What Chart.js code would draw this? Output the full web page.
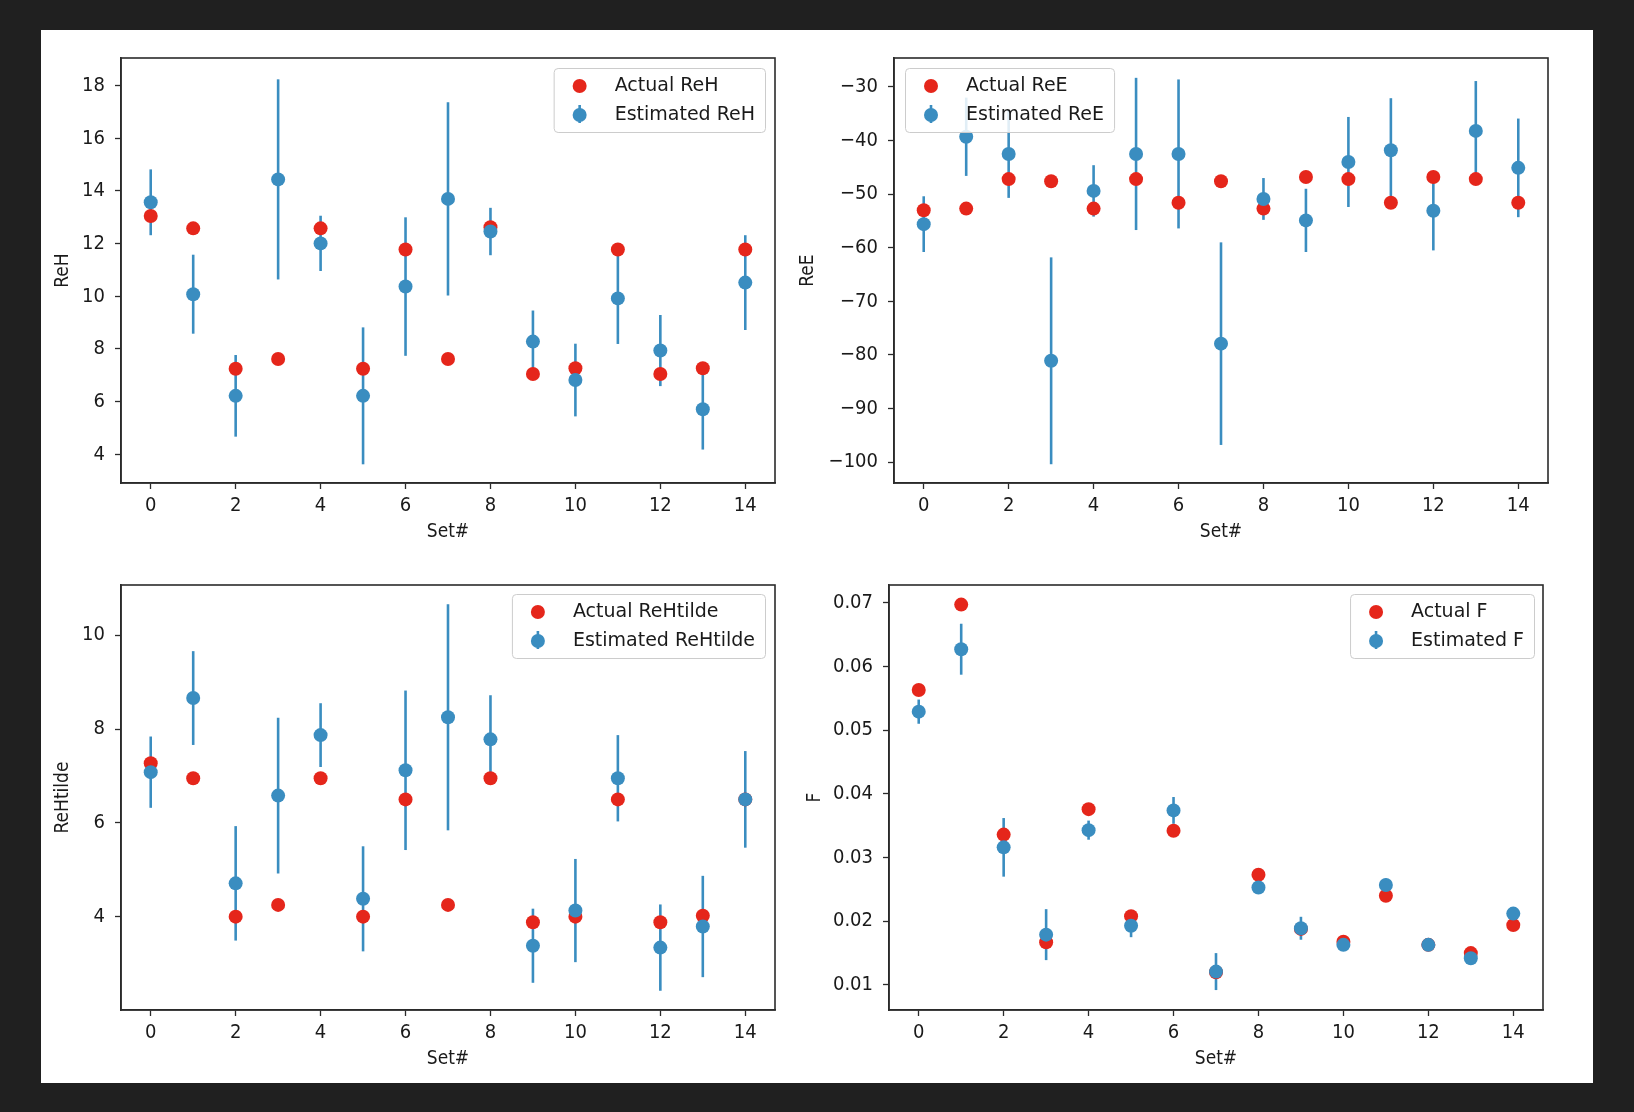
<!DOCTYPE html>
<html>
<head>
<meta charset="utf-8">
<script src="https://cdn.jsdelivr.net/npm/chart.js@4.4.1/dist/chart.umd.min.js"></script>
<style>
body { margin: 0; background: #202020; width: 1634px; height: 1112px; overflow: hidden; }
#fig { position: absolute; left: 41px; top: 30px; width: 1552px; height: 1053px; background: #fff; }
canvas { position: absolute; }
</style>
</head>
<body>
<div id="fig"></div>
<canvas id="cReH" width="800" height="520" style="left:42px;top:30px"></canvas>
<canvas id="cReE" width="802" height="520" style="left:790px;top:30px"></canvas>
<canvas id="cReHt" width="800" height="522" style="left:42px;top:555px"></canvas>
<canvas id="cF" width="802" height="522" style="left:790px;top:555px"></canvas>
<script>
// set numbers on the x axis
var sets = [0, 1, 2, 3, 4, 5, 6, 7, 8, 9, 10, 11, 12, 13, 14];
var xTicks = [0, 2, 4, 6, 8, 10, 12, 14];

var actualReH = [13.05, 12.58, 7.25, 7.62, 12.58, 7.25, 11.78, 7.62, 12.62, 7.05, 7.27, 11.78, 7.05, 7.27, 11.78];
var estReH = [13.57, 10.08, 6.22, 14.44, 12.01, 6.22, 10.37, 13.70, 12.46, 8.28, 6.82, 9.92, 7.94, 5.71, 10.52];
var errReH = [1.25, 1.5, 1.55, 3.8, 1.05, 2.6, 2.63, 3.67, 0.9, 1.18, 1.38, 1.73, 1.35, 1.53, 1.8];
var reHTicks = [4, 6, 8, 10, 12, 14, 16, 18];

var actualReE = [-53.0, -52.7, -47.2, -47.6, -52.7, -47.2, -51.6, -47.6, -52.7, -46.8, -47.2, -51.6, -46.8, -47.2, -51.6];
var estReE = [-55.6, -39.3, -42.5, -81.1, -49.4, -42.5, -42.5, -77.9, -50.9, -54.9, -44.0, -41.8, -53.1, -38.2, -45.1];
var errReE = [5.2, 7.3, 8.2, 19.3, 4.8, 14.2, 13.9, 18.9, 3.9, 5.9, 8.4, 9.7, 7.4, 9.3, 9.2];
var reETicks = [-100, -90, -80, -70, -60, -50, -40, -30];

var actualReHt = [7.27, 6.95, 4.0, 4.25, 6.95, 4.0, 6.5, 4.25, 6.95, 3.88, 4.0, 6.5, 3.88, 4.02, 6.5];
var estReHt = [7.08, 8.66, 4.71, 6.58, 7.87, 4.38, 7.12, 8.25, 7.78, 3.38, 4.13, 6.95, 3.34, 3.79, 6.5];
var errReHt = [0.76, 1.0, 1.22, 1.66, 0.68, 1.12, 1.7, 2.41, 0.94, 0.79, 1.1, 0.92, 0.92, 1.08, 1.03];
var reHtTicks = [4, 6, 8, 10];

var actualF = [0.0563, 0.0697, 0.0336, 0.0167, 0.0376, 0.0208, 0.0342, 0.0120, 0.0273, 0.0188, 0.0168, 0.0240, 0.0163, 0.0150, 0.0194];
var estF = [0.0529, 0.0627, 0.0316, 0.0179, 0.0343, 0.0193, 0.0374, 0.0121, 0.0253, 0.0189, 0.0163, 0.0257, 0.0163, 0.0142, 0.0212];
var errF = [0.0019, 0.004, 0.0046, 0.004, 0.0015, 0.0018, 0.0021, 0.0029, 0.0008, 0.0018, 0.0008, 0.001, 0.0006, 0.0008, 0.0006];
var fTicks = [0.01, 0.02, 0.03, 0.04, 0.05, 0.06, 0.07];

var RED = '#e5261b';
var BLUE = '#3a8dc0';
var AXIS = '#2b2b2b';
var FONT = '"DejaVu Sans Condensed", "DejaVu Sans", sans-serif';
var LEG_FONT = '19px "DejaVu Sans", sans-serif';

Chart.defaults.font.family = FONT;
Chart.defaults.color = '#1a1a1a';

// vertical error bars for the estimated series, drawn under the points
var errorBars = {
    id: 'errorBars',
    beforeDatasetsDraw: function (chart, args, opts) {
        var c = chart.ctx, x = chart.scales.x, y = chart.scales.y;
        var pts = chart.data.datasets[1].data;
        c.save();
        c.strokeStyle = BLUE;
        c.lineWidth = 2.6;
        opts.err.forEach(function (e, i) {
            var px = x.getPixelForValue(pts[i].x);
            c.beginPath();
            c.moveTo(px, y.getPixelForValue(pts[i].y - e));
            c.lineTo(px, y.getPixelForValue(pts[i].y + e));
            c.stroke();
        });
        c.restore();
    }
};

// frame + matplotlib style legend box
var frameLegend = {
    id: 'frameLegend',
    afterDraw: function (chart, args, opts) {
        var c = chart.ctx, a = chart.chartArea;
        c.save();
        c.strokeStyle = AXIS;
        c.lineWidth = 1.6;
        c.strokeRect(a.left, a.top, a.right - a.left, a.bottom - a.top);

        c.font = LEG_FONT;
        var tw = Math.max(c.measureText(opts.labels[0]).width, c.measureText(opts.labels[1]).width);
        var w = 61 + tw + 10, h = 64;
        var left = opts.side === 'left' ? a.left + opts.dx : a.right - opts.dx - w;
        var top = a.top + opts.dy;
        c.fillStyle = 'rgba(255,255,255,0.85)';
        c.strokeStyle = '#cccccc';
        c.lineWidth = 1;
        c.beginPath();
        c.roundRect(left + 0.5, top + 0.5, w, h, 4);
        c.fill();
        c.stroke();

        var mx = left + 26, r1 = top + 18, r2 = top + 47;
        c.fillStyle = RED;
        c.beginPath(); c.arc(mx, r1, 7, 0, Math.PI * 2); c.fill();
        c.strokeStyle = BLUE; c.lineWidth = 2.6;
        c.beginPath(); c.moveTo(mx, r2 - 10); c.lineTo(mx, r2 + 8); c.stroke();
        c.fillStyle = BLUE;
        c.beginPath(); c.arc(mx, r2, 7, 0, Math.PI * 2); c.fill();

        c.fillStyle = '#1a1a1a';
        c.textBaseline = 'middle';
        c.fillText(opts.labels[0], left + 61, r1);
        c.fillText(opts.labels[1], left + 61, r2);
        c.restore();
    }
};

function panel(id, o) {
    var ctx = document.getElementById(id).getContext('2d');
    return new Chart(ctx, {
        type: 'scatter',
        data: {
            datasets: [{
                label: 'Actual ' + o.name,
                data: sets.map(function (s, i) { return { x: s, y: o.actual[i] }; }),
                backgroundColor: RED,
                borderColor: RED,
                borderWidth: 0,
                pointRadius: 7,
                order: 2
            }, {
                label: 'Estimated ' + o.name,
                data: sets.map(function (s, i) { return { x: s, y: o.est[i] }; }),
                backgroundColor: BLUE,
                borderColor: BLUE,
                borderWidth: 0,
                pointRadius: 7,
                order: 1
            }]
        },
        options: {
            responsive: false,
            animation: false,
            layout: { padding: { left: 0, right: o.padRight, top: o.padTop, bottom: 0 } },
            plugins: {
                legend: { display: false },
                tooltip: { enabled: false },
                errorBars: { err: o.err },
                frameLegend: { labels: ['Actual ' + o.name, 'Estimated ' + o.name], side: o.legSide, dx: o.legDx, dy: o.legDy }
            },
            scales: {
                x: {
                    type: 'linear',
                    min: -0.7,
                    max: 14.7,
                    afterBuildTicks: function (s) { s.ticks = xTicks.map(function (v) { return { value: v }; }); },
                    afterFit: function (s) { s.height = 67; },
                    grid: { display: true, drawOnChartArea: false, tickLength: 6, color: AXIS, tickWidth: 1.3 },
                    border: { display: true, color: AXIS, width: 1.6 },
                    ticks: { font: { size: 20 }, padding: 5, maxRotation: 0 },
                    title: { display: true, text: 'Set#', font: { size: 19 }, padding: { top: 0, bottom: 7 } }
                },
                y: {
                    min: o.min,
                    max: o.max,
                    afterBuildTicks: function (s) { s.ticks = o.ticks.map(function (v) { return { value: v }; }); },
                    afterFit: function (s) { s.width = o.yWidth; },
                    grid: { display: true, drawOnChartArea: false, tickLength: 6, color: AXIS, tickWidth: 1.3 },
                    border: { display: true, color: AXIS, width: 1.6 },
                    ticks: { font: { size: 20 }, padding: 10, callback: o.fmt },
                    title: { display: true, text: o.name, font: { size: 19 }, padding: { top: o.titlePad, bottom: 0 } }
                }
            }
        },
        plugins: [errorBars, frameLegend]
    });
}

function minus(v) { return String(v).replace('-', '\u2212'); }

panel('cReH', { name: 'ReH', actual: actualReH, est: estReH, err: errReH, ticks: reHTicks,
    min: 2.91, max: 19.05, yWidth: 79, padRight: 67, padTop: 28, titlePad: 10,
    legSide: 'right', legDx: 10, legDy: 10, fmt: minus });
panel('cReE', { name: 'ReE', actual: actualReE, est: estReE, err: errReE, ticks: reETicks,
    min: -103.9, max: -24.6, yWidth: 104, padRight: 44, padTop: 28, titlePad: 7,
    legSide: 'left', legDx: 11, legDy: 10, fmt: minus });
panel('cReHt', { name: 'ReHtilde', actual: actualReHt, est: estReHt, err: errReHt, ticks: reHtTicks,
    min: 2.01, max: 11.07, yWidth: 79, padRight: 67, padTop: 30, titlePad: 10,
    legSide: 'right', legDx: 10, legDy: 9, fmt: minus });
panel('cF', { name: 'F', actual: actualF, est: estF, err: errF, ticks: fTicks,
    min: 0.00607, max: 0.07278, yWidth: 99, padRight: 49, padTop: 30, titlePad: 14,
    legSide: 'right', legDx: 9, legDy: 9, fmt: function (v) { return v.toFixed(2); } });
</script>
</body>
</html>
